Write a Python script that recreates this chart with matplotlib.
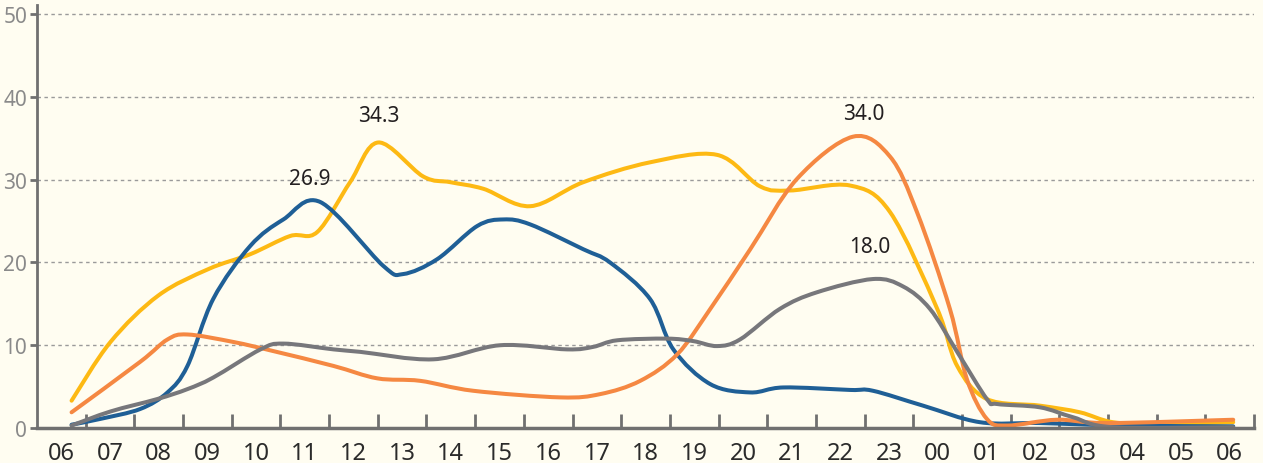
import numpy as np
import matplotlib.pyplot as plt
from matplotlib.path import Path
from matplotlib.patches import PathPatch

# hours after 06:00
hour_labels = ["06", "07", "08", "09", "10", "11", "12", "13", "14", "15", "16", "17",
               "18", "19", "20", "21", "22", "23", "00", "01", "02", "03", "04", "05", "06"]

yellow_x = [0.21, 1.01, 1.99, 3.02, 3.88, 4.70, 5.26, 5.93, 6.51, 7.43, 7.99, 8.67, 9.63,
            10.72, 12.09, 13.47, 14.35, 14.97, 16.20, 17.02, 17.99, 18.40, 19.01,
            20.10, 20.92, 21.60, 22.57, 24.07]
yellow_y = [3.3, 10.4, 16.0, 19.2, 21.0, 23.2, 23.7, 29.7, 34.5, 30.4, 29.7, 28.9, 26.8,
            29.7, 32.1, 33.0, 29.2, 28.7, 29.3, 26.1, 14.4, 7.5, 3.5,
            2.7, 1.9, 0.7, 0.5, 0.7]

blue_x = [0.21, 0.80, 1.62, 2.18, 2.59, 3.12, 3.88, 4.56, 5.32, 6.61, 7.02, 7.72,
          8.54, 9.08, 9.63, 10.72, 11.27, 12.09, 12.57, 13.33, 14.15, 14.83, 16.20,
          16.67, 17.70, 18.87, 20.10, 21.75, 24.07]
blue_y = [0.4, 1.1, 2.3, 4.3, 7.5, 15.6, 22.0, 25.2, 27.3, 19.6, 18.6, 20.4,
          24.4, 25.2, 24.6, 21.6, 20.0, 15.6, 9.5, 5.3, 4.3, 4.9, 4.6,
          4.5, 2.7, 0.7, 0.6, 0.3, 0.2]

orange_x = [0.21, 1.62, 2.18, 2.59, 3.53, 4.35, 5.59, 6.49, 7.37, 8.46, 10.25, 11.07,
            11.89, 12.65, 13.33, 14.15, 15.11, 16.26, 17.02, 17.58, 18.25, 18.60, 19.01,
            19.43, 20.45, 21.48, 24.07]
orange_y = [1.9, 8.0, 10.7, 11.3, 10.4, 9.3, 7.5, 6.0, 5.7, 4.5, 3.7, 4.1,
            5.7, 8.9, 14.4, 21.6, 30.1, 35.2, 32.8, 26.0, 14.4, 5.9, 1.1,
            0.3, 1.0, 0.6, 1.0]

gray_x = [0.21, 1.01, 1.97, 2.59, 3.12, 4.09, 4.56, 5.59, 6.14, 7.64, 9.01, 10.39, 10.92,
          11.42, 12.44, 12.98, 13.47, 13.94, 14.76, 15.52, 16.67, 17.29, 17.84, 18.40,
          19.01, 19.22, 20.10, 20.78, 21.60, 24.07]
gray_y = [0.3, 2.0, 3.5, 4.7, 6.1, 9.5, 10.2, 9.5, 9.2, 8.3, 10.0, 9.5, 9.8,
          10.6, 10.8, 10.5, 9.9, 10.7, 14.4, 16.4, 18.0, 17.1, 14.4, 9.2,
          3.5, 2.9, 2.5, 1.3, 0.1, 0.1]

peak_labels = ["26.9", "34.3", "34.0", "18.0"]
peak_x = [5.11, 6.53, 16.49, 16.61]
peak_y = [30.1, 37.8, 38.0, 21.9]


def smooth_path(xs, ys):
    """Catmull-Rom curve through the points, as cubic Bezier segments."""
    pts = np.column_stack([xs, ys])
    verts = [pts[0]]
    codes = [Path.MOVETO]
    n = len(pts)
    for i in range(n - 1):
        p0 = pts[i - 1] if i > 0 else pts[i]
        p1 = pts[i]
        p2 = pts[i + 1]
        p3 = pts[i + 2] if i + 2 < n else pts[i + 1]
        c1 = p1 + (p2 - p0) / 6
        c2 = p2 - (p3 - p1) / 6
        verts += [c1, c2, p2]
        codes += [Path.CURVE4] * 3
    return Path(verts, codes)


bg = "#fffdf1"
fig = plt.figure(figsize=(12.63, 4.64), dpi=100, facecolor=bg)
ax = fig.add_axes([0.0293, 0.0754, 0.9637, 0.9115])
ax.set_facecolor(bg)

series = [
    (yellow_x, yellow_y, "#fdb913"),
    (blue_x, blue_y, "#1f5f96"),
    (orange_x, orange_y, "#f58842"),
    (gray_x, gray_y, "#77777b"),
]
for xs, ys, col in series:
    ax.add_patch(PathPatch(smooth_path(xs, ys), facecolor="none", edgecolor=col,
                           lw=2.9, capstyle="round", joinstyle="round", zorder=3))

for txt, x, y in zip(peak_labels, peak_x, peak_y):
    ax.text(x, y, txt, ha="center", va="center", fontsize=15,
            color="#231f20", family="Noto Sans", zorder=4)

ax.set_xlim(-0.5, 24.5)
ax.set_ylim(0, 51.1)

ax.set_yticks([0, 10, 20, 30, 40, 50])
ax.set_yticklabels(["0", "10", "20", "30", "40", "50"], family="Noto Sans",
                   fontsize=15, color="#8a8a8a")
ax.tick_params(axis="y", direction="out", length=5, width=2, color="#707070", pad=2)

ax.set_xticks(np.arange(25))
ax.set_xticklabels(hour_labels, family="Noto Sans", fontsize=17, color="#2b2b2b")
ax.set_xticks(np.arange(25) + 0.5, minor=True)
ax.tick_params(axis="x", which="major", length=0, pad=9)
ax.tick_params(axis="x", which="minor", direction="in", length=10, width=2,
               color="#707070")

for y in [10, 20, 30, 40, 50]:
    ax.axhline(y, color="#9a9a9a", lw=1, ls=(0, (2.5, 2.5)), zorder=1)

for side in ["top", "right"]:
    ax.spines[side].set_visible(False)
ax.spines["left"].set_color("#707070")
ax.spines["left"].set_linewidth(2)
ax.spines["bottom"].set_color("#707070")
ax.spines["bottom"].set_linewidth(2.5)
ax.spines["bottom"].set_zorder(5)

fig.savefig("out.png", dpi=100, facecolor=bg)
